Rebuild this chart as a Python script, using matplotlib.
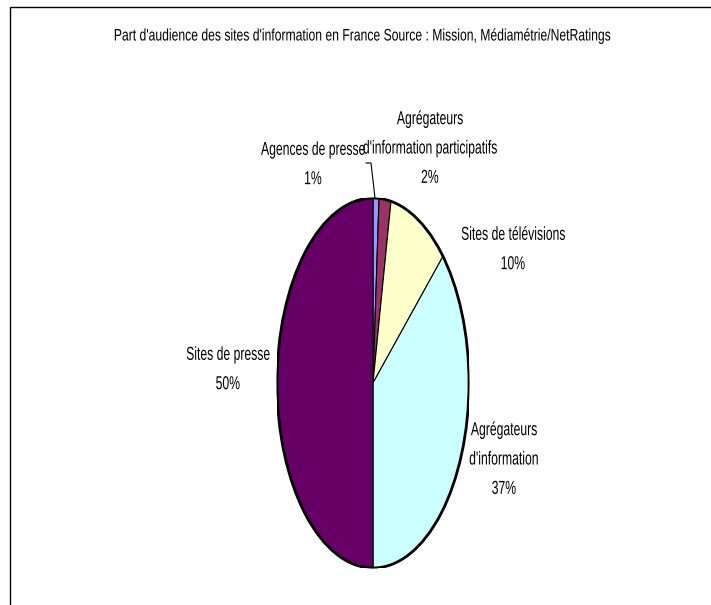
import matplotlib
matplotlib.use("Agg")
import matplotlib.pyplot as plt
from matplotlib.lines import Line2D
from matplotlib.patches import Ellipse
from matplotlib.patheffects import AbstractPathEffect
from matplotlib.transforms import Affine2D

# Audience share of French news websites
categories = [
    "Agences de presse",
    "Agrégateurs\nd'information participatifs",
    "Sites de télévisions",
    "Agrégateurs\nd'information",
    "Sites de presse",
]
shares = [1, 2, 10, 37, 50]
colors = ["#9999FF", "#993366", "#FFFFCC", "#CCFFFF", "#660066"]
title = ("Part d'audience des sites d'information en France "
         "Source : Mission, Médiamétrie/NetRatings")

W, H = 711, 605
family = ["Liberation Sans"]


class Condensed(AbstractPathEffect):
    """Squeeze each text line horizontally about its own centre."""

    def __init__(self, sx):
        super().__init__()
        self.sx = sx

    def draw_path(self, renderer, gc, tpath, affine, rgbFace=None):
        if len(tpath.vertices):
            xs = tpath.vertices[:, 0]
            c = 0.5 * (xs.min() + xs.max())
        else:
            c = 0.0
        squeeze = Affine2D().translate(-c, 0).scale(self.sx, 1).translate(c, 0)
        renderer.draw_path(gc, tpath, squeeze + affine, rgbFace)


fig = plt.figure(figsize=(W / 100, H / 100), dpi=100)
fig.patch.set_facecolor("white")


def fx(px):
    return px / W


def fy(py):
    return 1 - py / H


# outer chart-area border (left and top edges)
fig.add_artist(Line2D([fx(9.5), fx(9.5), 1.0], [0.0, fy(6.5), fy(6.5)],
                      transform=fig.transFigure, color="black", lw=1.0))

# elliptical pie: axes stretched vertically
left, right, top, bottom = 277, 469, 198, 568
ax = fig.add_axes([fx(left), fy(bottom), fx(right - left), fy(top) - fy(bottom)])
wedges, _ = ax.pie(shares, colors=colors, startangle=90, counterclock=False,
                   wedgeprops=dict(edgecolor="black", linewidth=0.8))
ax.set_xlim(-1.0, 1.0)
ax.set_ylim(-1.0, 1.0)
ax.set_aspect("auto")
ax.axis("off")
# heavier outline of the ellipse
ax.add_patch(Ellipse((0, 0), 2, 2, fill=False, edgecolor="black", linewidth=2.0))

fig.text(fx(363), fy(36), title, ha="center", va="center", fontsize=12,
         family=family, path_effects=[Condensed(0.73)])

labels = [f"{c}\n{v}%" for c, v in zip(categories, shares)]
label_pos = [(313, 165), (430, 149), (513, 250), (504, 460), (228, 370)]
for lab, (px, py) in zip(labels, label_pos):
    fig.text(fx(px), fy(py), lab, ha="center", va="center", fontsize=13.5,
             family=family, linespacing=1.95, path_effects=[Condensed(0.65)])

# leader line for the smallest slice
fig.add_artist(Line2D([fx(375), fx(371), fx(366)], [fy(198), fy(163), fy(163)],
                      transform=fig.transFigure, color="black", lw=0.8))

fig.savefig("out.png", dpi=100, facecolor="white")
